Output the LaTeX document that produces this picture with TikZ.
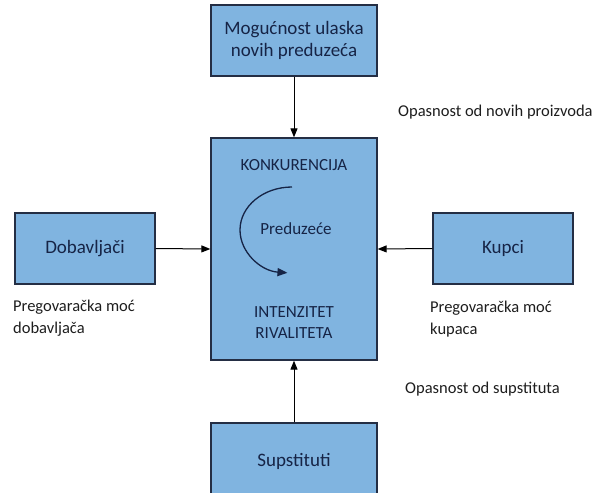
\documentclass[tikz,border=0pt]{standalone}
\usepackage{fontspec}
\setmainfont{Carlito}
\usepackage{xcolor}
\usepackage{tikz}
\usetikzlibrary{arrows.meta, positioning}
\definecolor{boxblue}{RGB}{128, 180, 224}
\definecolor{navy}{RGB}{36, 46, 68}
\definecolor{inkblue}{RGB}{22, 36, 70}
\definecolor{txtgray}{RGB}{30, 30, 30}

\begin{document}
\begin{tikzpicture}[x=1pt, y=-1pt,
  bx/.style={rectangle, draw=navy, fill=boxblue, line width=1.3pt,
    font=\fontsize{19pt}{22pt}\selectfont, text=inkblue,
    align=center, minimum width=166pt, minimum height=71pt, inner sep=3pt},
  inbx/.style={font=\fontsize{17pt}{21pt}\selectfont, text=inkblue, align=center},
  arr/.style={-{Triangle[length=9pt, width=7pt]}, line width=1pt, color=black},
  carr/.style={-{Triangle[length=10pt, width=8pt]}, line width=1.3pt, color=inkblue},
  lbl/.style={font=\fontsize{16.5pt}{22pt}\selectfont, text=txtgray,
    align=left, anchor=base west, inner sep=0pt}
]
\clip (0,0) rectangle (614,493);
\fill[white] (0,0) rectangle (614,493);
\node[bx] at (294, 40.5) (entry) {Mogućnost ulaska\\novih preduzeća};
\node[bx, minimum height=222pt] at (294, 249) (firm) {};
\node[bx, minimum width=140pt] at (85, 248.5) (supp) {Dobavljači};
\node[bx, minimum width=140pt] at (503, 248.5) (buy) {Kupci};
\node[bx, minimum height=76pt] at (294, 461) (subst) {Supstituti};
\draw[arr] (entry.south) -- (firm.north);
\draw[arr] (supp.east)   -- (firm.west);
\draw[arr] (buy.west)    -- (firm.east);
\draw[arr] (subst.north) -- (firm.south);
\node[inbx] at (294, 165) (konk)  {KONKURENCIJA};
\node[inbx] at (296, 229) (pred)  {Preduzeće};
\node[inbx] at (294, 323) (rival) {INTENZITET\\RIVALITETA};
\coordinate (cs) at (292, 187);
\draw[carr] (cs) arc[start angle=270, end angle=95, x radius=52, y radius=43];
\node[lbl] at (398, 116) (lnew)  {Opasnost od novih proizvoda};
\node[lbl] at (13, 333)  (lsupp) {Pregovaračka moć\\dobavljača};
\node[lbl] at (430, 334) (lbuy)  {Pregovaračka moć\\kupaca};
\node[lbl] at (405, 393) (lsub)  {Opasnost od supstituta};
\end{tikzpicture}
\end{document}
